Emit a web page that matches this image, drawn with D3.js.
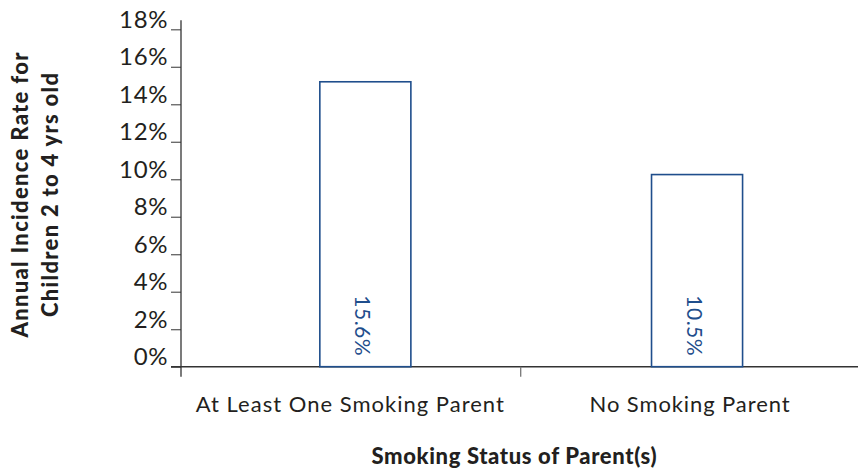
<!DOCTYPE html>
<html>
<head>
<meta charset="utf-8">
<script src="https://cdn.jsdelivr.net/npm/d3@7"></script>
<style>
  html, body { margin: 0; padding: 0; background: #fff; }
  svg { display: block; }
  text { font-family: Lato, "Open Sans", sans-serif; fill: #231f20; }
</style>
</head>
<body>
<svg id="chart" width="858" height="471"></svg>
<script>
// ---- data ----
const categories = ["At Least One Smoking Parent", "No Smoking Parent"];
const barHeights = [15.2, 10.25];          // bar tops as drawn in the picture (%)
const barLabels = ["15.6%", "10.5%"];      // value labels printed in the bars
const yTicks = [0, 2, 4, 6, 8, 10, 12, 14, 16, 18];
const yTitleLines = ["Annual Incidence Rate for", "Children 2 to 4 yrs old"];
const xTitle = "Smoking Status of Parent(s)";

const W = 858, H = 471;
const svg = d3.select("#chart");
const axisColor = "#333";
const barColor = "#1f4e8c";

const y = d3.scaleLinear().domain([0, 18]).range([366.7, 29.3]);
const x = d3.scaleBand().domain(categories).range([181, 860.4]);

// Y axis
const yAxis = d3.axisLeft(y).tickValues(yTicks).tickSize(10).tickPadding(3)
  .tickFormat(d => d + "%");
const gy = svg.append("g").attr("transform", "translate(181,0)").call(yAxis);
gy.select(".domain").remove();
gy.selectAll(".tick line").attr("stroke", "#555").attr("stroke-width", 1.2);
gy.selectAll(".tick text").style("font-size", "24px").attr("fill", "#231f20")
  .style("font-family", "Lato, sans-serif").style("letter-spacing", "0.6px")
  .attr("dy", "-0.08em");
gy.append("line").attr("x1", 0).attr("x2", 0)
  .attr("y1", y(18) - 9).attr("y2", y(0) + 10)
  .attr("stroke", axisColor).attr("stroke-width", 1.3);

// X axis
const gx = svg.append("g").attr("transform", `translate(0,${y(0)})`);
gx.append("line").attr("x1", 171).attr("x2", W).attr("y1", 0).attr("y2", 0)
  .attr("stroke", axisColor).attr("stroke-width", 1.6);
categories.slice(1).forEach(c => {
  gx.append("line").attr("x1", x(c)).attr("x2", x(c)).attr("y1", 0).attr("y2", 10)
    .attr("stroke", "#777").attr("stroke-width", 1.3);
});
const catWidths = [308, 200];
gx.selectAll("text.cat").data(categories).join("text").attr("class", "cat")
  .attr("x", d => x(d) + x.bandwidth() / 2 - 1)
  .attr("y", 45.3)
  .attr("text-anchor", "middle")
  .attr("textLength", (d, i) => catWidths[i])
  .attr("lengthAdjust", "spacing")
  .style("font-size", "22px")
  .text(d => d);

// Bars
const barW = x.bandwidth() * 0.268;
const barOffset = [14.5, 6.5];
svg.selectAll("rect.bar").data(categories).join("rect").attr("class", "bar")
  .attr("x", (d, i) => x(d) + x.bandwidth() / 2 + barOffset[i] - barW / 2)
  .attr("y", (d, i) => y(barHeights[i]))
  .attr("width", barW)
  .attr("height", (d, i) => y(0) - y(barHeights[i]))
  .attr("fill", "#fff").attr("stroke", barColor).attr("stroke-width", 1.6);

// Bar labels (rotated)
svg.selectAll("text.val").data(categories).join("text").attr("class", "val")
  .attr("transform", (d, i) => `translate(${x(d) + x.bandwidth() / 2 + barOffset[i] - 3},${y(0) - 41}) rotate(90)`)
  .attr("text-anchor", "middle")
  .attr("dy", "0.35em")
  .style("font-size", "21px")
  .style("letter-spacing", "0.5px")
  .style("fill", barColor)
  .text((d, i) => barLabels[i]);

// Y title
const yTitleWidths = [285, 244];
const yt = svg.append("text")
  .attr("transform", "translate(0,195) rotate(-90)")
  .attr("text-anchor", "middle")
  .style("font-size", "22px").style("font-weight", "900");
yt.selectAll("tspan").data(yTitleLines).join("tspan")
  .attr("x", 0).attr("y", (d, i) => 28 + i * 30)
  .attr("textLength", (d, i) => yTitleWidths[i])
  .attr("lengthAdjust", "spacing")
  .text(d => d);

// X title
svg.append("text").attr("x", 514).attr("y", 464)
  .attr("text-anchor", "middle")
  .attr("textLength", 285)
  .attr("lengthAdjust", "spacing")
  .style("font-size", "22px").style("font-weight", "900")
  .text(xTitle);
</script>
</body>
</html>
